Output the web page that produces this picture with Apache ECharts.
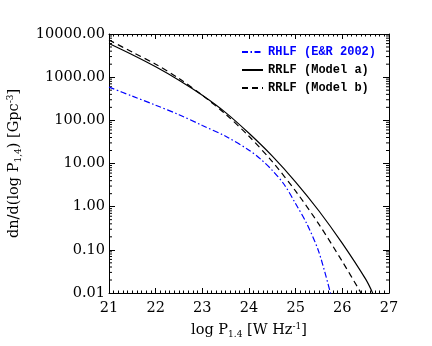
<!DOCTYPE html>
<html>
<head>
<meta charset="utf-8">
<script src="https://cdn.jsdelivr.net/npm/echarts@6/dist/echarts.min.js"></script>
<style>html,body{margin:0;padding:0;background:#fff;}#c{width:432px;height:346px;}</style>
</head>
<body>
<div id="c"></div>
<script>
// Data (x = log P1.4, y = dn/d(log P) in Gpc^-3)
const rhlfX = [21.0, 21.5, 22.0, 22.5, 23.0, 23.5, 24.0, 24.25, 24.5, 24.75, 25.0, 25.25, 25.5, 25.75];
const rhlfY = [589, 363, 224, 135, 76.0, 42.7, 20.4, 12.6, 6.92, 3.31, 1.17, 0.380, 0.0871, 0.0095];
const modelAX = [21.0, 21.5, 22.0, 22.5, 23.0, 23.5, 24.0, 24.5, 25.0, 25.5, 26.0, 26.5, 26.65];
const modelAY = [6030, 3310, 1740, 851, 380, 151, 50.1, 14.8, 3.72, 0.794, 0.141, 0.0209, 0.0100];
const modelBX = [21.0, 21.5, 22.0, 22.5, 23.0, 23.5, 24.0, 24.5, 25.0, 25.5, 26.0, 26.4];
const modelBY = [7240, 3800, 1995, 933, 380, 138, 42.7, 11.0, 2.29, 0.389, 0.0537, 0.0100];
const seriesNames = ['RHLF (E&R 2002)', 'RRLF (Model a)', 'RRLF (Model b)'];
const xTicks = [21, 22, 23, 24, 25, 26, 27];
const yTicks = [0.01, 0.1, 1, 10, 100, 1000, 10000];

const yMinor = [];
for (let d = 0; d < yTicks.length - 1; d++) {
  for (let k = 2; k <= 9; k++) yMinor.push(+(yTicks[d] * k).toPrecision(3));
}
const zip = (xs, ys) => xs.map((x, i) => [x, ys[i]]);

const serif = 'DejaVu Serif';
const blueDash = [6, 2.5, 1.5, 2.5];
const blackDash = [6, 4];
const chart = echarts.init(document.getElementById('c'), null, {renderer: 'canvas'});
const xBase = {
  type: 'value', min: xTicks[0], max: xTicks[xTicks.length - 1], interval: 1,
  axisLine: {show: true, lineStyle: {color: '#000', width: 1}},
  axisTick: {show: true, inside: true, length: 5, lineStyle: {color: '#000'}},
  minorTick: {show: true, splitNumber: 10, length: 2.5, lineStyle: {color: '#000'}},
  splitLine: {show: false}, minorSplitLine: {show: false}
};
const yBase = {
  type: 'log', min: yTicks[0], max: yTicks[yTicks.length - 1], logBase: 10,
  axisLine: {show: true, lineStyle: {color: '#000', width: 1}},
  axisTick: {show: true, inside: true, length: 6, lineStyle: {color: '#000'}},
  splitLine: {show: false}
};
const richStyles = {
  sub: {fontFamily: serif, fontSize: 9, verticalAlign: 'bottom', padding: [8, 0, 0, 0]},
  sup: {fontFamily: serif, fontSize: 9, verticalAlign: 'top', padding: [0, 0, 8, 0]}
};
chart.setOption({
  animation: false,
  backgroundColor: '#fff',
  grid: {left: 109, right: 43, top: 34, bottom: 53, outerBoundsMode: 'none', containLabel: false},
  legend: {
    orient: 'vertical', left: 236, top: 41, itemWidth: 21, itemHeight: 12, itemGap: 6,
    itemStyle: {opacity: 0},
    textStyle: {fontFamily: 'Liberation Mono', fontWeight: 'bold', fontSize: 12, color: '#000'},
    data: [
      {name: seriesNames[0], textStyle: {color: '#0000ff'}, lineStyle: {type: blueDash}},
      {name: seriesNames[1], lineStyle: {type: 'solid'}},
      {name: seriesNames[2], lineStyle: {type: blackDash}}
    ]
  },
  xAxis: [
    Object.assign({}, xBase, {
      position: 'bottom',
      axisLabel: {show: true, margin: 8, color: '#000', fontFamily: serif, fontSize: 14.5},
      name: 'log P{sub|1.4} [W Hz{sup|-1}]', nameLocation: 'middle', nameGap: 29,
      nameTextStyle: {color: '#000', fontFamily: serif, fontSize: 14.5, rich: richStyles}
    }),
    Object.assign({}, xBase, {position: 'top', axisLabel: {show: false}})
  ],
  yAxis: [
    Object.assign({}, yBase, {
      position: 'left',
      axisLabel: {show: true, margin: 4, color: '#000', fontFamily: serif, fontSize: 14.5,
        formatter: v => Number(v).toFixed(2)},
      name: 'dn/d(log P{sub|1,4}) [Gpc{sup|-3}]', nameLocation: 'middle', nameGap: 86, nameRotate: 90,
      nameTextStyle: {color: '#000', fontFamily: serif, fontSize: 14.5, rich: richStyles}
    }),
    Object.assign({}, yBase, {position: 'right', axisLabel: {show: false}})
  ],
  series: [
    {
      name: seriesNames[0], type: 'line', data: zip(rhlfX, rhlfY), smooth: 0.3,
      showSymbol: false, symbol: 'none', clip: true,
      lineStyle: {color: '#0000ff', width: 1.2, type: blueDash}, itemStyle: {color: '#0000ff'}
    },
    {
      name: seriesNames[1], type: 'line', data: zip(modelAX, modelAY), smooth: 0.3,
      showSymbol: false, symbol: 'none', clip: true,
      lineStyle: {color: '#000', width: 1.2, type: 'solid'}, itemStyle: {color: '#000'}
    },
    {
      name: seriesNames[2], type: 'line', data: zip(modelBX, modelBY), smooth: 0.3,
      showSymbol: false, symbol: 'none', clip: true,
      lineStyle: {color: '#000', width: 1.2, type: blackDash}, itemStyle: {color: '#000'}
    },
    {
      type: 'custom', silent: true, xAxisIndex: 0, yAxisIndex: 0,
      data: yMinor.map(v => [xTicks[0], v]), encode: {x: 0, y: 1},
      renderItem: function (params, api) {
        const pL = api.coord([xTicks[0], api.value(1)]);
        const pR = api.coord([xTicks[xTicks.length - 1], api.value(1)]);
        const st = {stroke: '#000', lineWidth: 1};
        return {type: 'group', children: [
          {type: 'line', shape: {x1: pL[0], y1: pL[1], x2: pL[0] + 3, y2: pL[1]}, style: st},
          {type: 'line', shape: {x1: pR[0], y1: pR[1], x2: pR[0] - 3, y2: pR[1]}, style: st}
        ]};
      }
    }
  ]
});
</script>
</body>
</html>
